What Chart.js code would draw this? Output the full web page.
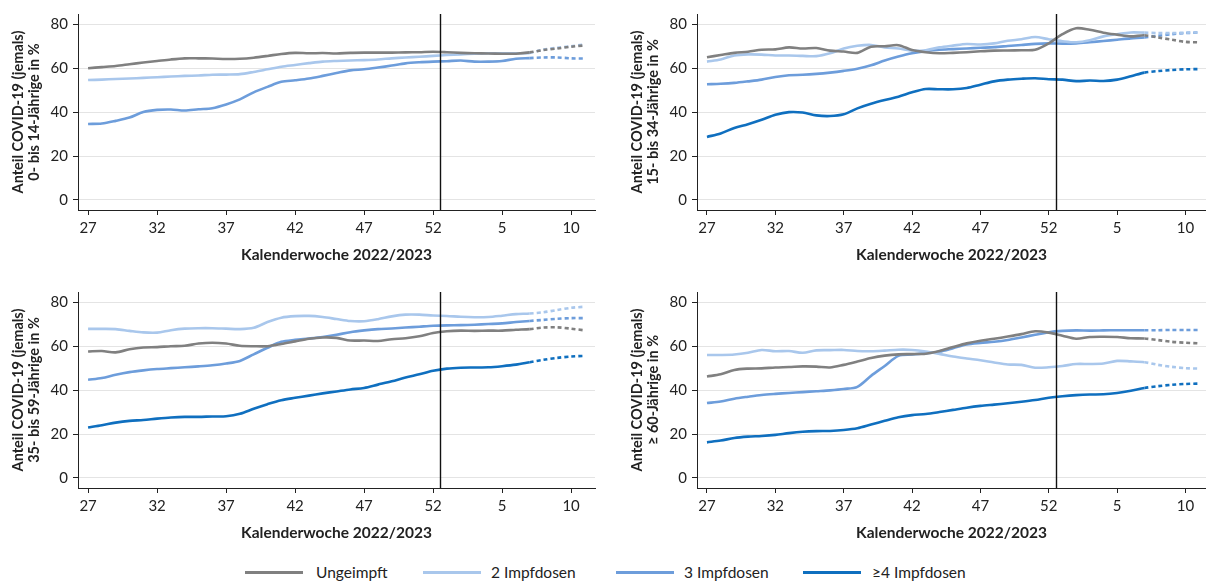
<!DOCTYPE html>
<html lang="de">
<head>
<meta charset="UTF-8">
<title>Anteil COVID-19 nach Impfstatus</title>
<script src="https://cdn.jsdelivr.net/npm/chart.js@4.4.1/dist/chart.umd.min.js"></script>
<style>
  body { margin: 0; width: 1206px; height: 581px; background: #fff; position: relative; overflow: hidden;
         font-family: Lato, "Open Sans", sans-serif; }
  .panel { position: absolute; height: 270px; }
  #legend { position: absolute; left: 0; top: 562px; width: 1206px; height: 20px; font-size: 15.5px; color: #222; }
  .lg-line { position: absolute; top: 9px; height: 3px; }
  .lg-text { position: absolute; top: 0; line-height: 20px; }
</style>
</head>
<body>
<div class="panel" style="left:0;top:0;width:600px"><canvas id="c1"></canvas></div>
<div class="panel" style="left:600px;top:0;width:606px"><canvas id="c2"></canvas></div>
<div class="panel" style="left:0;top:278px;width:600px"><canvas id="c3"></canvas></div>
<div class="panel" style="left:600px;top:278px;width:606px"><canvas id="c4"></canvas></div>
<div id="legend"></div>

<script>
// Kalenderwochen 27/2022 .. 11/2023 (ab Index 32 = KW 7 gestrichelt)
const weeks = [27,28,29,30,31,32,33,34,35,36,37,38,39,40,41,42,43,44,45,46,47,48,49,50,51,52,1,2,3,4,5,6,7,8,9,10,11];
const tickIdx = [0,5,10,15,20,25,30,35];
const dashFrom = 32;
const yTicks = [0,20,40,60,80];

const seriesNames = ['Ungeimpft','2 Impfdosen','3 Impfdosen','\u22654 Impfdosen'];
const seriesColors = ['#808080','#a9c7ec','#6d9ddb','#0f6fbf'];

// 0- bis 14-Jährige
const a_ungeimpft = [60.0,60.5,61.0,61.8,62.6,63.3,64.0,64.5,64.5,64.4,64.2,64.3,64.8,65.6,66.5,67.0,66.8,66.9,66.7,67.0,67.1,67.1,67.1,67.2,67.3,67.5,67.3,67.0,66.8,66.7,66.6,66.6,67.2,68.3,69.0,69.8,70.4];
const a_dosen2 = [54.6,54.8,55.1,55.3,55.6,55.9,56.2,56.5,56.7,57.0,57.1,57.3,58.3,59.5,60.7,61.5,62.3,63.0,63.3,63.5,63.7,64.0,64.5,64.9,65.2,65.6,66.0,66.3,66.6,66.8,66.8,66.8,67.0,68.5,69.3,70.0,70.8];
const a_dosen3 = [34.6,34.8,36.0,37.5,40.0,41.0,41.2,40.7,41.3,41.8,43.5,45.8,49.0,51.5,53.8,54.5,55.3,56.5,57.8,59.0,59.5,60.3,61.2,62.2,62.7,63.0,63.2,63.5,63.0,63.0,63.3,64.3,64.6,64.9,64.9,64.5,64.4];

// 15- bis 34-Jährige
const b_ungeimpft = [65.0,66.0,67.0,67.5,68.4,68.6,69.5,69.0,69.2,68.0,67.6,67.0,69.8,70.0,70.5,68.3,67.3,66.8,67.0,67.3,67.7,68.0,68.1,68.2,68.4,71.3,75.5,78.2,77.5,76.2,75.3,74.5,75.0,74.0,73.0,72.0,71.8];
const b_dosen2 = [63.0,64.0,65.8,66.3,66.2,65.8,65.8,65.6,65.5,66.8,69.0,70.2,70.6,69.5,69.0,68.0,68.2,69.5,70.3,71.0,70.8,71.3,72.5,73.2,74.2,73.2,72.3,71.8,72.7,74.5,75.5,76.3,76.2,76.0,76.0,76.2,76.3];
const b_dosen3 = [52.7,52.9,53.3,54.0,54.8,56.0,56.8,57.0,57.4,58.0,58.8,59.8,61.3,63.5,65.3,66.8,67.8,68.4,68.7,69.0,69.3,69.6,70.1,70.6,71.1,71.3,71.2,71.3,71.8,72.4,73.0,73.6,74.0,74.8,75.5,76.0,76.3];
const b_dosen4 = [28.7,30.3,32.8,34.5,36.5,38.8,40.0,39.8,38.5,38.2,39.0,41.7,43.8,45.5,47.0,49.0,50.5,50.4,50.4,51.0,52.5,54.0,54.8,55.2,55.4,55.0,54.8,54.1,54.4,54.2,54.8,56.3,58.0,58.7,59.2,59.5,59.6];

// 35- bis 59-Jährige
const c_ungeimpft = [57.6,57.8,57.2,58.6,59.4,59.6,60.0,60.2,61.2,61.6,61.2,60.2,60.0,60.0,61.0,62.2,63.4,64.0,63.8,62.6,62.6,62.4,63.2,63.6,64.5,66.0,66.8,67.1,67.0,67.1,67.1,67.5,67.8,68.5,68.6,68.0,67.2];
const c_dosen2 = [67.9,67.9,67.8,67.0,66.3,66.2,67.3,68.0,68.2,68.2,68.0,67.8,68.4,71.0,73.0,73.7,73.8,73.3,72.4,71.5,71.4,72.3,73.6,74.4,74.4,74.0,73.8,73.4,73.2,73.3,73.9,74.6,74.9,75.5,76.5,77.5,78.0];
const c_dosen3 = [44.7,45.5,47.0,48.2,49.0,49.6,50.0,50.4,50.8,51.3,52.1,53.3,56.3,59.3,62.0,62.9,63.5,64.2,65.2,66.4,67.2,67.8,68.1,68.5,68.9,69.3,69.5,69.6,69.8,70.1,70.4,71.0,71.5,72.0,72.5,72.8,72.8];
const c_dosen4 = [23.0,24.0,25.2,26.0,26.4,27.0,27.5,27.8,27.8,28.0,28.1,29.2,31.5,33.6,35.4,36.5,37.5,38.5,39.4,40.3,41.0,42.5,44.0,45.7,47.2,48.8,49.8,50.2,50.3,50.4,50.9,51.6,52.7,53.8,54.7,55.3,55.6];

// >= 60-Jährige
const d_ungeimpft = [46.2,47.2,49.2,49.8,49.9,50.3,50.5,50.8,50.7,50.3,51.5,53.0,54.6,55.7,56.3,56.4,56.6,57.8,59.6,61.3,62.5,63.4,64.4,65.5,66.8,66.2,64.8,63.4,64.2,64.3,64.2,63.6,63.5,62.8,62.0,61.6,61.3];
const d_dosen2 = [56.0,56.0,56.2,57.0,58.3,57.7,57.8,57.0,58.1,58.2,58.3,57.8,57.7,58.0,58.4,58.3,57.6,56.5,55.3,54.4,53.6,52.6,51.7,51.5,50.2,50.4,51.0,51.9,51.9,52.1,53.3,53.1,52.7,51.5,50.6,50.0,49.8];
const d_dosen3 = [34.1,34.8,36.1,37.0,37.8,38.3,38.7,39.1,39.5,39.9,40.5,41.5,46.5,51.0,55.6,56.2,56.8,57.5,59.1,60.8,61.5,62.0,62.8,64.0,65.2,66.4,67.0,67.2,67.1,67.2,67.3,67.3,67.3,67.3,67.4,67.4,67.4];
const d_dosen4 = [16.2,17.0,18.2,18.8,19.1,19.6,20.4,21.0,21.3,21.4,21.8,22.6,24.3,26.0,27.6,28.6,29.1,30.0,31.0,32.0,32.8,33.4,34.0,34.7,35.5,36.5,37.2,37.7,38.0,38.1,38.7,39.7,41.0,41.8,42.4,42.8,43.0];

const FONT = 'Lato, "Open Sans", sans-serif';

const vline = {
  id: 'vline',
  afterDatasetsDraw(chart) {
    const {ctx, chartArea, scales} = chart;
    const x = Math.round(scales.x.getPixelForValue(25.5)) + 0.5;
    ctx.save();
    ctx.strokeStyle = '#111';
    ctx.lineWidth = 1.4;
    ctx.beginPath();
    ctx.moveTo(x, chartArea.top);
    ctx.lineTo(x, chartArea.bottom);
    ctx.stroke();
    ctx.restore();
  }
};

function makeChart(id, ageLabel, series, leftW, xMax, titlePad, padRight) {
  const datasets = series.map((vals, k) => ({
    label: seriesNames[k],
    data: vals.map((v, i) => ({x: i, y: v})),
    borderColor: seriesColors[k],
    borderWidth: 2.6,
    pointRadius: 0,
    tension: 0.3,
    fill: false,
    segment: {
      borderDash: c => c.p0DataIndex >= dashFrom ? [4, 3] : undefined
    }
  }));
  return new Chart(document.getElementById(id), {
    type: 'line',
    data: {datasets},
    plugins: [vline],
    options: {
      responsive: true,
      maintainAspectRatio: false,
      animation: false,
      layout: {padding: {top: 14, right: padRight, left: 0, bottom: 0}},
      plugins: {legend: {display: false}, tooltip: {enabled: false}},
      scales: {
        x: {
          type: 'linear',
          min: -0.73,
          max: xMax,
          afterBuildTicks: s => { s.ticks = tickIdx.map(v => ({value: v})); },
          afterFit: s => { s.height = 60; },
          border: {color: '#222', width: 1},
          grid: {drawOnChartArea: false, drawTicks: true, tickLength: 5, tickColor: '#222'},
          ticks: {
            color: '#222', padding: 4, maxRotation: 0,
            font: {family: FONT, size: 15},
            callback: v => weeks[v]
          },
          title: {
            display: true, text: 'Kalenderwoche 2022/2023', color: '#222',
            font: {family: FONT, size: 15.5, weight: 'bold'},
            padding: {top: 0, bottom: 6}
          }
        },
        y: {
          min: -4.6,
          max: 84.7,
          afterBuildTicks: s => { s.ticks = yTicks.map(v => ({value: v})); },
          afterFit: s => { s.width = leftW; },
          border: {color: '#222', width: 1},
          grid: {color: '#e4e4e4', lineWidth: 1, drawTicks: true, tickLength: 5, tickColor: '#222'},
          ticks: {color: '#222', padding: 5, font: {family: FONT, size: 15}},
          title: {
            display: true, text: ['Anteil COVID-19 (jemals)', ageLabel], color: '#222',
            font: {family: FONT, size: 14.5, weight: 'bold', lineHeight: 1.15},
            padding: {top: titlePad, bottom: 0}
          }
        }
      }
    }
  });
}

makeChart('c1', '0- bis 14-Jährige in %', [a_ungeimpft, a_dosen2, a_dosen3], 78, 36.73, 9.6, 5);
makeChart('c2', '15- bis 34-Jährige in %', [b_ungeimpft, b_dosen2, b_dosen3, b_dosen4], 97, 36.5, 28.6, 0);
makeChart('c3', '35- bis 59-Jährige in %', [c_ungeimpft, c_dosen2, c_dosen3, c_dosen4], 78, 36.73, 9.6, 5);
makeChart('c4', '\u2265 60-Jährige in %', [d_ungeimpft, d_dosen2, d_dosen3, d_dosen4], 97, 36.5, 28.6, 0);

// Legende
const legendPos = [[245, 316], [423, 491], [616, 684], [803, 872]];
const legend = document.getElementById('legend');
seriesNames.forEach((name, k) => {
  const line = document.createElement('div');
  line.className = 'lg-line';
  line.style.left = legendPos[k][0] + 'px';
  line.style.width = '58px';
  line.style.background = seriesColors[k];
  legend.appendChild(line);
  const txt = document.createElement('div');
  txt.className = 'lg-text';
  txt.style.left = legendPos[k][1] + 'px';
  txt.textContent = name;
  legend.appendChild(txt);
});
</script>
</body>
</html>
